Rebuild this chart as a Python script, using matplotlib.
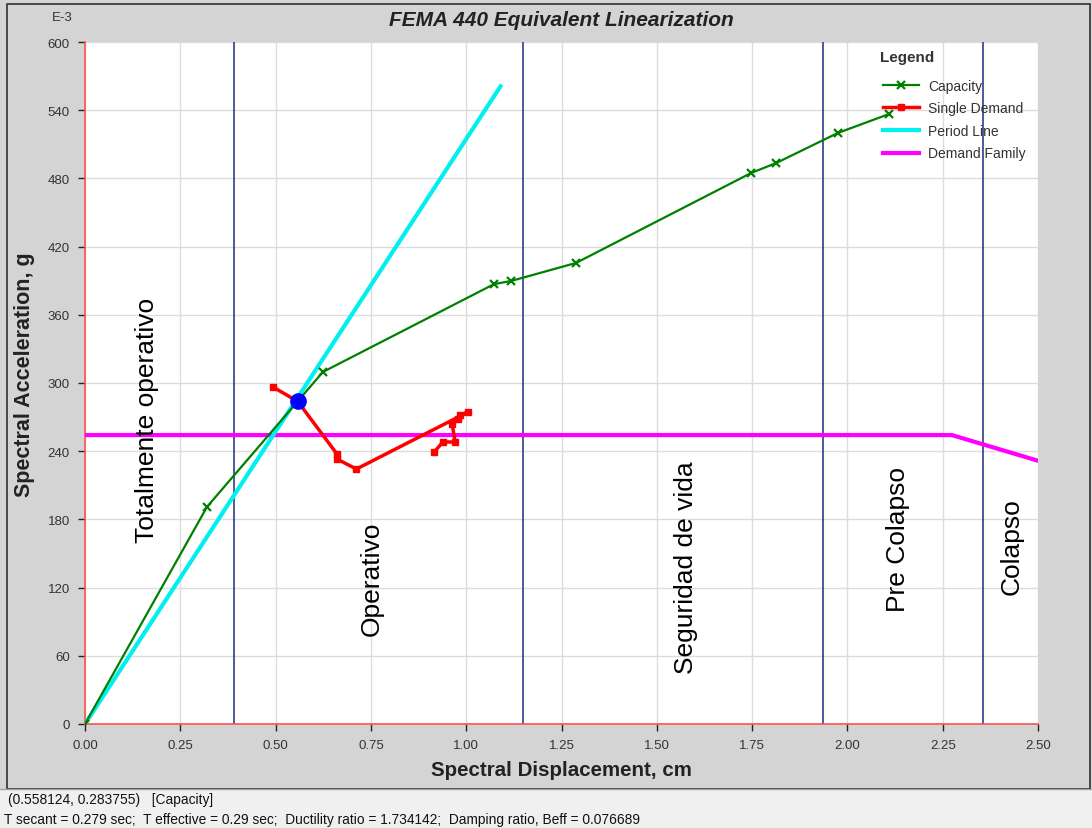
import matplotlib
matplotlib.use("Agg")
import matplotlib.pyplot as plt
from matplotlib.patches import Rectangle
from matplotlib.lines import Line2D

plt.rcParams['font.family'] = ['Liberation Sans', 'DejaVu Sans']

# ---- data (acceleration in E-3 g) ----
cap_x = [0.0, 0.32, 0.624, 1.073, 1.117, 1.288, 1.747, 1.813, 1.975, 2.109]
cap_y = [0.0, 191.0, 309.7, 387.0, 389.7, 405.6, 484.7, 493.5, 520.0, 536.6]

dem_x = [0.493, 0.558, 0.661, 0.661, 0.712, 1.005, 0.984, 0.978, 0.963, 0.971, 0.939, 0.916]
dem_y = [296.5, 283.8, 237.5, 233.1, 224.3, 274.5, 271.8, 268.3, 263.9, 248.1, 248.1, 239.3]

period_x = [0.0, 1.09]
period_y = [0.0, 561.0]

family_x = [0.0, 2.274, 2.5]
family_y = [254.2, 254.2, 231.6]

perf_x = [0.558124]
perf_y = [283.755]

limit_x = [0.391, 1.149, 1.936, 2.356]

zone_labels = ["Totalmente operativo", "Operativo", "Seguridad de vida", "Pre Colapso", "Colapso"]
zone_x = [0.163, 0.753, 1.577, 2.133, 2.432]
zone_y = [268, 129, 138, 163, 157]

x_ticks = [0.0, 0.25, 0.5, 0.75, 1.0, 1.25, 1.5, 1.75, 2.0, 2.25, 2.5]
y_ticks = [0, 60, 120, 180, 240, 300, 360, 420, 480, 540, 600]

W, H = 1092, 829
fig = plt.figure(figsize=(W / 100, H / 100), dpi=100, facecolor='#d4d4d4')

# status bar
fig.patches.append(Rectangle((0, 0), 1, (829 - 790) / H, transform=fig.transFigure,
                             facecolor='#f0f0f0', edgecolor='none', zorder=0))
fig.add_artist(Line2D([0, 1], [(829 - 790) / H] * 2, transform=fig.transFigure,
                      color='#a0a0a0', lw=1))
# outer frame
fig.patches.append(Rectangle((7 / W, (829 - 790) / H), (1090 - 7) / W, (790 - 5) / H,
                             transform=fig.transFigure, facecolor='none',
                             edgecolor='#303030', lw=1.2, zorder=1))

ax = fig.add_axes([85 / W, 1 - 725 / H, (1038 - 85) / W, (725 - 43) / H])
ax.set_facecolor('white')
ax.set_xlim(0, 2.5)
ax.set_ylim(0, 600)
ax.set_xticks(x_ticks)
ax.set_xticklabels([f"{v:.2f}" for v in x_ticks])
ax.set_yticks(y_ticks)
ax.set_yticklabels([str(v) for v in y_ticks])
ax.grid(True, color='#dcdcdc', lw=1)
ax.set_axisbelow(True)
for s in ['top', 'right']:
    ax.spines[s].set_visible(False)
for s in ['left', 'bottom']:
    ax.spines[s].set_color('#ff5050')
    ax.spines[s].set_linewidth(1.2)
ax.tick_params(axis='both', colors='#222222', labelcolor='#333333', labelsize=9.5,
               length=5, width=1, direction='out', pad=6)

for xv in limit_x:
    ax.axvline(xv, color='#1a2f80', lw=1.1, zorder=2)

ax.plot(family_x, family_y, color='#ff00ff', lw=3, label='Demand Family', zorder=3)
ax.plot(period_x, period_y, color='#00f0f0', lw=3, label='Period Line', zorder=3)
ax.plot(cap_x, cap_y, color='#008000', lw=1.6, marker='x', ms=6, mew=1.6,
        label='Capacity', zorder=4)
ax.plot(dem_x, dem_y, color='#ff0000', lw=2.5, marker='s', ms=5,
        label='Single Demand', zorder=5)
ax.plot(perf_x, perf_y, color='#0000ff', marker='o', ms=11, ls='none', zorder=6)

for lab, xv, yv in zip(zone_labels, zone_x, zone_y):
    ax.text(xv, yv, lab, rotation=90, ha='center', va='center', fontsize=19, color='black')

handles, labels = ax.get_legend_handles_labels()
order = ['Capacity', 'Single Demand', 'Period Line', 'Demand Family']
hmap = dict(zip(labels, handles))
leg = ax.legend([hmap[k] for k in order], order, frameon=False,
                loc='upper left', bbox_to_anchor=(0.8246, 0.9647), fontsize=10,
                handlelength=2.6, handletextpad=0.6, labelspacing=0.62)
for t in leg.get_texts():
    t.set_color('#333333')
ax.text((880 - 85) / 953, (725 - 58) / 682, 'Legend', transform=ax.transAxes,
        ha='left', va='center', fontsize=11, fontweight='bold', color='#333333')

ax.set_xlabel('Spectral Displacement, cm', fontsize=14.8, fontweight='bold', color='#222222', labelpad=6)
ax.set_ylabel('Spectral Acceleration, g', fontsize=15.5, fontweight='bold', color='#222222')
ax.yaxis.set_label_coords(-0.052, 0.513)

fig.text(561 / W, 1 - 21 / H, 'FEMA 440 Equivalent Linearization', ha='center', va='center',
         fontsize=15, fontweight='bold', fontstyle='italic', color='#222222')
fig.text(62 / W, 1 - 18 / H, 'E-3', ha='center', va='center', fontsize=9.5, color='#333333')

fig.text(8 / W, 1 - 800 / H, '(0.558124, 0.283755)   [Capacity]', ha='left', va='center',
         fontsize=9.9, color='#111111')
fig.text(4 / W, 1 - 820 / H,
         'T secant = 0.279 sec;  T effective = 0.29 sec;  Ductility ratio = 1.734142;  Damping ratio, Beff = 0.076689',
         ha='left', va='center', fontsize=9.9, color='#111111')

fig.savefig('out.png', dpi=100, facecolor=fig.get_facecolor())
